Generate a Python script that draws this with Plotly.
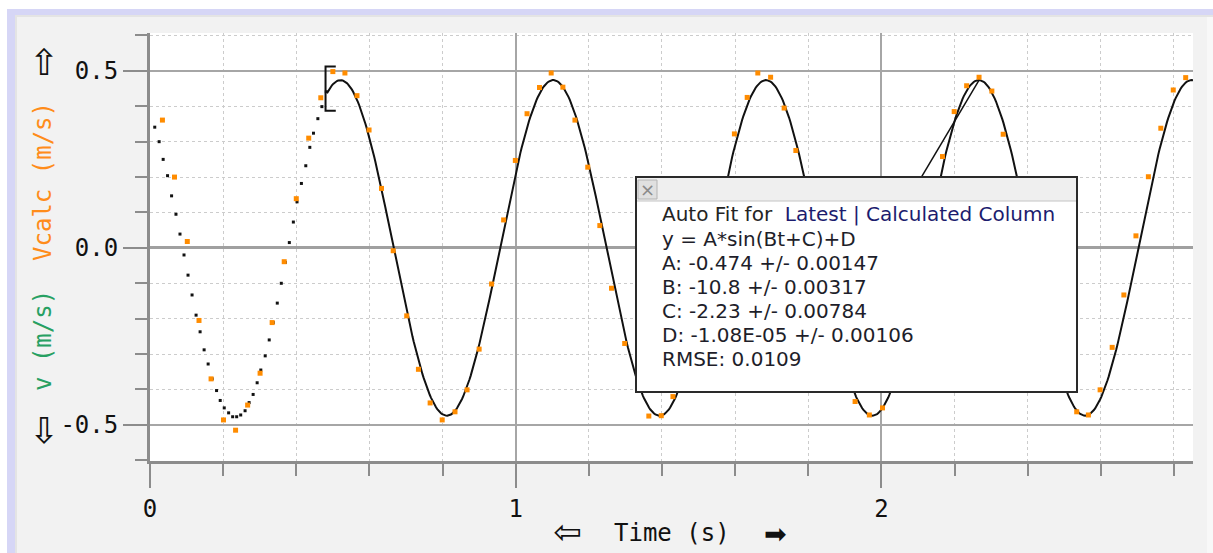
import numpy as np
import plotly.graph_objects as go

# ---------------- data ----------------
# measured velocity v (black dots) before the fit range
v_t = [0.013, 0.025, 0.036, 0.048, 0.059, 0.071, 0.082, 0.093, 0.104, 0.115,
       0.126, 0.137, 0.148, 0.159, 0.170, 0.182, 0.192, 0.203, 0.215, 0.226,
       0.237, 0.248, 0.260, 0.271, 0.282, 0.293, 0.303, 0.315, 0.326, 0.337,
       0.348, 0.359, 0.370, 0.381, 0.392, 0.402, 0.414, 0.426, 0.437, 0.447,
       0.459, 0.470, 0.482]
v_val = [0.341, 0.300, 0.250, 0.204, 0.147, 0.095, 0.039, -0.020, -0.077, -0.133,
         -0.190, -0.237, -0.288, -0.328, -0.370, -0.403, -0.431, -0.452, -0.466, -0.477,
         -0.477, -0.472, -0.460, -0.437, -0.414, -0.381, -0.345, -0.305, -0.260, -0.211,
         -0.156, -0.100, -0.041, 0.015, 0.073, 0.130, 0.182, 0.232, 0.284, 0.324,
         0.365, 0.399, 0.441]

# calculated velocity Vcalc (orange squares); points hidden by the fit box are not readable
vc_t = [0.034, 0.067, 0.102, 0.134, 0.167, 0.201, 0.234, 0.267, 0.301, 0.334,
        0.367, 0.400, 0.434, 0.467, 0.500, 0.533, 0.566, 0.599, 0.633, 0.665,
        0.702, 0.734, 0.766, 0.799, 0.834, 0.867, 0.900, 0.934, 0.967, 0.999,
        1.031, 1.065, 1.097, 1.129, 1.162, 1.197, 1.230, 1.262, 1.298,
        1.364, 1.398, 1.430,
        1.598, 1.633, 1.662, 1.697, 1.734, 1.766,
        1.928, 1.967, 2.003,
        2.167, 2.199, 2.233, 2.267, 2.302, 2.333,
        2.534, 2.566, 2.598, 2.631, 2.663, 2.696, 2.730, 2.764, 2.798, 2.832]
vc_val = [0.361, 0.200, 0.018, -0.205, -0.370, -0.486, -0.515, -0.444, -0.354, -0.211,
          -0.039, 0.139, 0.310, 0.424, 0.498, 0.494, 0.430, 0.333, 0.168, -0.008,
          -0.192, -0.343, -0.438, -0.486, -0.463, -0.401, -0.286, -0.102, 0.079, 0.247,
          0.379, 0.453, 0.494, 0.454, 0.361, 0.228, 0.063, -0.114, -0.270,
          -0.475, -0.474, -0.420,
          0.322, 0.425, 0.494, 0.482, 0.395, 0.275,
          -0.434, -0.472, -0.452,
          0.258, 0.385, 0.458, 0.482, 0.443, 0.321,
          -0.463, -0.472, -0.401, -0.281, -0.133, 0.034, 0.201, 0.338, 0.446, 0.481]

# auto-fit parameters shown in the box: y = A*sin(B t + C) + D
fit_A, fit_B, fit_C, fit_D = -0.474, -10.8, -2.23, -1.08e-05
fit_start, fit_end = 0.484, 2.852

# stray straight segment of the fit drawing
glitch_t = [2.0, 2.267]
glitch_v = [0.01, 0.474]

x_ticks = [0, 1, 2]
x_ticktext = ["0", "1", "2"]
y_ticks = [0.5, 0.0, -0.5]
y_ticktext = ["0.5", "0.0", "-0.5"]

fit_lines = [
    "y = A*sin(Bt+C)+D",
    "A: -0.474 +/- 0.00147",
    "B: -10.8 +/- 0.00317",
    "C: -2.23 +/- 0.00784",
    "D: -1.08E-05 +/- 0.00106",
    "RMSE: 0.0109",
]

# ---------------- figure ----------------
W, H = 1213, 553
L, R, T, B = 150, 1193, 33, 461


def px(xp, yp):
    return (xp - L) / (R - L), (B - yp) / (B - T)


def fit(t):
    return fit_A * np.sin(fit_B * np.asarray(t) + fit_C) + fit_D


fit_t = np.linspace(fit_start, fit_end, 700)

fig = go.Figure()
fig.add_trace(go.Scatter(x=fit_t, y=fit(fit_t), mode="lines",
                         line=dict(color="#111111", width=2), hoverinfo="skip"))
fig.add_trace(go.Scatter(x=glitch_t, y=glitch_v, mode="lines",
                         line=dict(color="#111111", width=1.5), hoverinfo="skip"))
fig.add_trace(go.Scatter(x=v_t, y=v_val, mode="markers",
                         marker=dict(symbol="square", size=3, color="#111111", line=dict(width=0))))
fig.add_trace(go.Scatter(x=vc_t, y=vc_val, mode="markers",
                         marker=dict(symbol="square", size=5, color="#ff8c00", line=dict(width=0))))

mono = "DejaVu Sans Mono"
axis_grey = "#8c8c8c"

fig.update_layout(
    width=W, height=H,
    margin=dict(l=L, r=W - R, t=T, b=H - B, pad=0),
    paper_bgcolor="#f2f2f2",
    plot_bgcolor="white",
    showlegend=False,
    xaxis=dict(
        range=[0, fit_end], showline=True, linecolor=axis_grey, linewidth=3,
        ticks="outside", ticklen=24, tickwidth=2, tickcolor=axis_grey,
        tickmode="array", tickvals=x_ticks, ticktext=x_ticktext,
        tickfont=dict(family=mono, size=24, color="#111111"),
        showgrid=True, gridcolor="#a6a6a6", gridwidth=2, zeroline=False,
        minor=dict(tickmode="linear", tick0=0, dtick=0.2, ticks="outside", ticklen=12,
                   tickwidth=2, tickcolor=axis_grey, showgrid=True,
                   gridcolor="#cccccc", gridwidth=1, griddash="dot"),
    ),
    yaxis=dict(
        range=[-0.602, 0.607], showline=True, linecolor=axis_grey, linewidth=3,
        ticks="outside", ticklen=24, tickwidth=2, tickcolor=axis_grey,
        tickmode="array", tickvals=y_ticks, ticktext=y_ticktext,
        tickfont=dict(family=mono, size=24, color="#111111"),
        showgrid=True, gridcolor="#a6a6a6", gridwidth=2,
        zeroline=True, zerolinecolor="#a0a0a0", zerolinewidth=3,
        minor=dict(tickmode="linear", tick0=0, dtick=0.1, ticks="outside", ticklen=12,
                   tickwidth=2, tickcolor=axis_grey, showgrid=True,
                   gridcolor="#cccccc", gridwidth=1, griddash="dot"),
    ),
)

shapes = []


def rect_px(x0, y0, x1, y1, **kw):
    a = px(x0, y0)
    b = px(x1, y1)
    d = dict(type="rect", xref="paper", yref="paper", x0=a[0], y0=b[1], x1=b[0], y1=a[1])
    d.update(kw)
    shapes.append(d)


# outer window frame
rect_px(0, 0, 7, H, fillcolor="white", line=dict(width=0), layer="above")
rect_px(0, 0, W, 9, fillcolor="white", line=dict(width=0), layer="above")
rect_px(7, 9, 15, H, fillcolor="#d6d6f6", line=dict(width=0), layer="above")
rect_px(7, 9, W, 15, fillcolor="#d6d6f6", line=dict(width=0), layer="above")
rect_px(15, 15, 17, H, fillcolor="#e4e4e4", line=dict(width=0), layer="above")
rect_px(15, 15, W, 17, fillcolor="#e4e4e4", line=dict(width=0), layer="above")
rect_px(1207, 17, W, H, fillcolor="#f8f8f8", line=dict(width=0), layer="above")

# fit range bracket
y_mid = float(fit(fit_start))
bx0, bx1 = fit_start - 0.004, fit_start + 0.024
yb0, yb1 = y_mid - 0.05, y_mid + 0.075
shapes.append(dict(type="path", xref="x", yref="y",
                   path=f"M {bx1},{yb1} L {bx0},{yb1} L {bx0},{yb0} L {bx1},{yb0}",
                   line=dict(color="#111111", width=2), layer="above"))

# fit result box
rect_px(636, 177, 1077, 392, fillcolor="white", line=dict(color="#2a2a2a", width=2), layer="above")
rect_px(637, 178, 1076, 201, fillcolor="#efefef", line=dict(width=0), layer="above")
a0 = px(637, 201)
a1 = px(1076, 201)
shapes.append(dict(type="line", xref="paper", yref="paper", x0=a0[0], y0=a0[1], x1=a1[0], y1=a1[1],
                   line=dict(color="#c4c4c4", width=1), layer="above"))
rect_px(638, 180, 657, 199, fillcolor="#e0e0e0", line=dict(color="#b4b4b4", width=1), layer="above")

fig.update_layout(shapes=shapes)

ann = []


def text_px(xp, yp, text, size, color="#111111", family="DejaVu Sans", xanchor="center", angle=0):
    x, y = px(xp, yp)
    ann.append(dict(xref="paper", yref="paper", x=x, y=y, text=text, showarrow=False,
                    xanchor=xanchor, yanchor="middle", textangle=angle,
                    font=dict(family=family, size=size, color=color)))


text_px(647.5, 189.5, "×", 18, color="#8a8a8a")
text_px(660, 214, 'Auto Fit for  <span style="color:#1c1c6e">Latest | Calculated Column</span>',
        20, color="#242424", xanchor="left")
for i, line in enumerate(fit_lines):
    text_px(660, 239 + 24 * i, line, 20, color="#1e1e2a", xanchor="left")

# y-axis title and arrows
text_px(43, 247, '<span style="color:#27a062">v (m/s)</span>&nbsp; '
                 '<span style="color:#ff8c1a">Vcalc (m/s)</span>', 24, family=mono, angle=-90)
text_px(44, 63, "⇧", 36)
text_px(44, 430, "⇩", 36)

# x-axis title and arrows (left arrow drawn as a rotated up-arrow so its box stays inside)
text_px(672, 533, "Time (s)", 24, family=mono)
text_px(568, 533, "⇧", 34, angle=-90)
text_px(775, 533, "➡", 27)

fig.update_layout(annotations=ann)

fig.write_html("out.html")
